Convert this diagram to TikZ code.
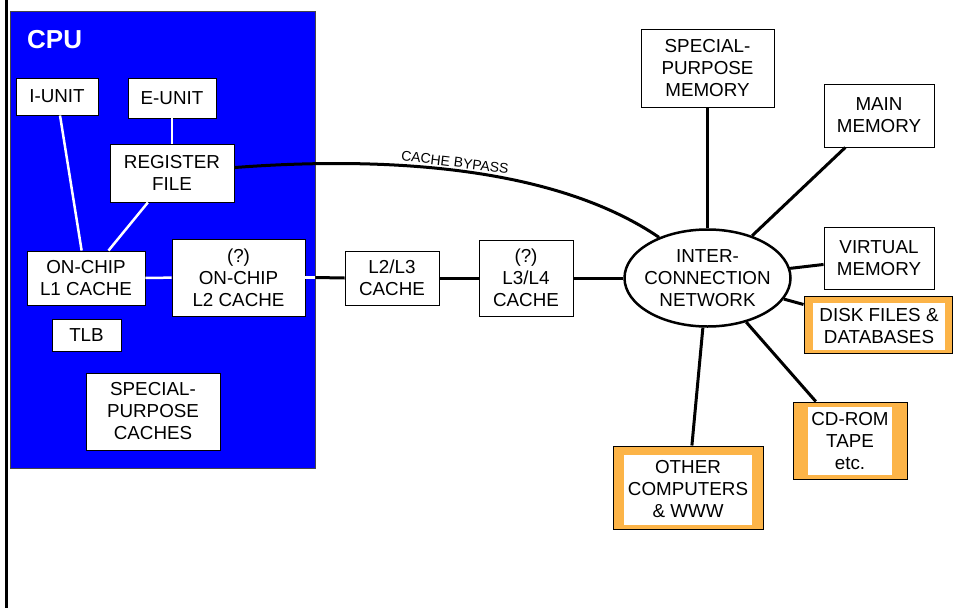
\documentclass[tikz,border=0pt]{standalone}
\usepackage{fontspec}
\setmainfont{Liberation Sans}
\usetikzlibrary{shapes.geometric}
\definecolor{cpublue}{RGB}{0,0,255}
\definecolor{orng}{RGB}{252,180,72}
\definecolor{cpuedge}{RGB}{70,70,70}
\begin{document}
\begin{tikzpicture}[x=1pt,y=-1pt,
  box/.style={draw=black, line width=0.9pt, fill=white, align=center, inner sep=0pt,
    font=\fontsize{18.8}{22}\selectfont},
  obox/.style={draw=black, line width=1pt, fill=orng, inner sep=0pt},
  ibox/.style={fill=white, inner sep=0pt, align=center, font=\fontsize{18.8}{22}\selectfont},
  wline/.style={white, line width=2.5pt},
  bline/.style={black, line width=3pt}]
\useasboundingbox (0,0) rectangle (953,608);
\fill[white] (0,0) rectangle (953,608);
\draw[line width=2.5pt] (6.5,0) -- (6.5,608);
% CPU
\node[draw=cpuedge, line width=0.8pt, fill=cpublue, minimum width=305pt, minimum height=457pt, inner sep=0pt] (cpu) at (162.5,239.5) {};
\node[anchor=base west, inner sep=0pt, text=white, font=\fontsize{26}{30}\selectfont\bfseries] (cpulabel) at (27,48) {CPU};
\node[box, minimum width=82pt, minimum height=37pt] (iunit) at (57,96.5) {I-UNIT};
\node[box, minimum width=88pt, minimum height=40pt] (eunit) at (172,98) {E-UNIT};
\node[box, minimum width=124pt, minimum height=58pt] (regfile) at (172,173) {REGISTER\\FILE};
\node[box, minimum width=118pt, minimum height=54pt] (l1) at (86,278) {ON-CHIP\\L1 CACHE};
\node[box, minimum width=133pt, minimum height=77pt] (l2) at (238.5,277.5) {(?)\\ON-CHIP\\L2 CACHE};
\node[box, minimum width=69pt, minimum height=32pt] (tlb) at (86.5,335) {TLB};
\node[box, minimum width=134pt, minimum height=77pt] (spcache) at (153,411.5) {SPECIAL-\\PURPOSE\\CACHES};
% outside caches
\node[box, minimum width=94pt, minimum height=54pt] (l23) at (392,278) {L2/L3\\CACHE};
\node[box, minimum width=94pt, minimum height=76pt] (l34) at (526,278) {(?)\\L3/L4\\CACHE};
% network
\node[ellipse, draw=black, line width=2.5pt, fill=white, minimum width=166pt, minimum height=97pt, inner xsep=-10pt, inner ysep=-4pt, align=center, font=\fontsize{18.8}{22}\selectfont] (net) at (707.5,278) {INTER-\\CONNECTION\\NETWORK};
\node[box, minimum width=133pt, minimum height=78pt] (spmem) at (707.5,68) {SPECIAL-\\PURPOSE\\MEMORY};
\node[box, minimum width=110pt, minimum height=63pt] (mainmem) at (879,115.5) {MAIN\\MEMORY};
\node[box, minimum width=110pt, minimum height=62pt] (virtmem) at (879,258) {VIRTUAL\\MEMORY};
\node[obox, minimum width=148pt, minimum height=57pt] (disk) at (878,325) {};
\node[ibox, minimum width=132pt, minimum height=47pt] (disktxt) at (879,326.5) {DISK FILES \&\\DATABASES};
\node[obox, minimum width=114pt, minimum height=77pt] (cdrom) at (850,440.5) {};
\node[ibox, minimum width=84pt, minimum height=68pt] (cdromtxt) at (850,441) {CD-ROM\\TAPE\\etc.};
\node[obox, minimum width=150pt, minimum height=83pt] (other) at (688,487.5) {};
\node[ibox, minimum width=128pt, minimum height=70pt] (othertxt) at (688,489.5) {OTHER\\COMPUTERS\\\& WWW};
% white connectors inside CPU
\draw[wline] (iunit) -- (l1);
\draw[wline] (regfile) -- (l1);
\draw[wline] (eunit) -- (regfile);
\draw[wline] (l1) -- (l2);
\coordinate (cpuexit) at (l2.east -| cpu.east);
\draw[wline] (l2.east) -- (cpuexit);
% black connectors
\draw[bline] (cpuexit) -- (l23.west);
\draw[bline] (l23) -- (l34);
\draw[bline] (l34) -- (net);
\draw[bline] (net) -- (spmem);
\draw[bline] (net) -- (mainmem);
\draw[bline] (net) -- (virtmem);
\draw[bline] (net) -- (disk);
\draw[bline] (net) -- (cdrom);
\draw[bline] (net) -- (other);
\draw[bline] (regfile.5) .. controls (400,155) and (560,170) .. (net.140)
  node[pos=0.46, sloped, above, inner sep=1.5pt, font=\fontsize{14}{16}\selectfont] (bypass) {CACHE BYPASS};
\end{tikzpicture}
\end{document}
